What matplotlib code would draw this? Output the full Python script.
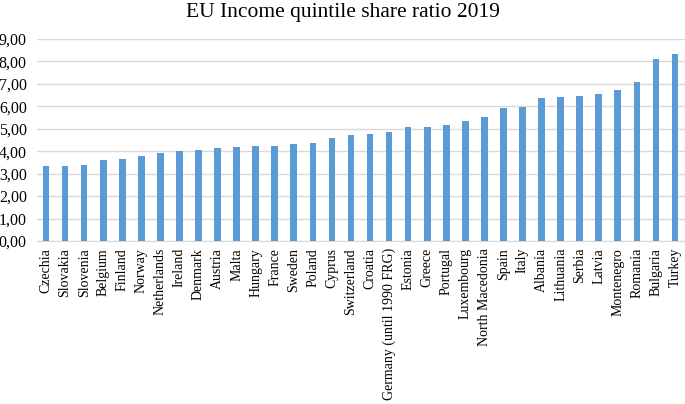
import numpy as np
import matplotlib.pyplot as plt
from matplotlib.ticker import FuncFormatter

countries = ["Czechia", "Slovakia", "Slovenia", "Belgium", "Finland", "Norway",
             "Netherlands", "Ireland", "Denmark", "Austria", "Malta", "Hungary",
             "France", "Sweden", "Poland", "Cyprus", "Switzerland", "Croatia",
             "Germany (until 1990 FRG)", "Estonia", "Greece", "Portugal",
             "Luxembourg", "North Macedonia", "Spain", "Italy", "Albania",
             "Lithuania", "Serbia", "Latvia", "Montenegro", "Romania",
             "Bulgaria", "Turkey"]
ratios = [3.34, 3.34, 3.38, 3.60, 3.67, 3.79, 3.93, 4.01, 4.07, 4.15, 4.18,
          4.22, 4.25, 4.33, 4.36, 4.57, 4.73, 4.75, 4.87, 5.07, 5.10, 5.16,
          5.33, 5.53, 5.93, 5.99, 6.38, 6.42, 6.45, 6.53, 6.72, 7.07, 8.10,
          8.35]

plt.rcParams['font.family'] = ['Liberation Serif', 'DejaVu Serif']

fig = plt.figure(figsize=(6.85, 4.04), dpi=100)
ax = fig.add_axes([36.5 / 685, 1 - 241 / 404, 648 / 685, 202 / 404])

x = np.arange(len(countries))
ax.bar(x, ratios, width=0.35, color="#5B9BD5", zorder=3)

ax.set_xlim(-0.5, len(countries) - 0.5)
ax.set_ylim(0, 9)
ax.set_yticks(np.arange(0, 10, 1))
ax.yaxis.set_major_formatter(FuncFormatter(lambda v, p: f"{v:.2f}".replace(".", ",")))
ax.grid(axis="y", color="#d9d9d9", linewidth=1, zorder=0)
ax.set_xticks(x)
ax.set_xticklabels(countries, rotation=90, fontsize=10)
ax.tick_params(axis="y", labelsize=11.5, length=0, pad=7)
ax.tick_params(axis="x", length=0, pad=5)
for s in ["top", "right", "left"]:
    ax.spines[s].set_visible(False)
ax.spines["bottom"].set_color("#d9d9d9")

fig.text(0.5, 1 - 12 / 404, "EU Income quintile share ratio 2019",
         ha="center", va="center", fontsize=15.5)

fig.savefig("out.png", dpi=100)
